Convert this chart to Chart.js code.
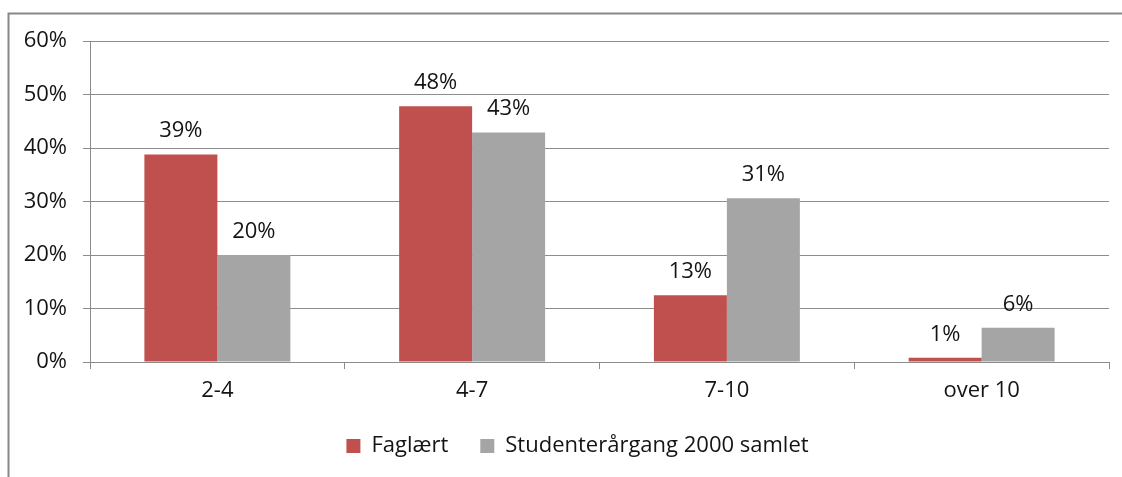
<!DOCTYPE html>
<html>
<head>
<meta charset="utf-8">
<script src="https://cdn.jsdelivr.net/npm/chart.js@4.4.1/dist/chart.umd.min.js"></script>
<style>
  html, body { margin: 0; padding: 0; background: #ffffff; }
  #wrap { position: absolute; left: 0; top: 0; width: 1122px; height: 477px; }
</style>
</head>
<body>
<div id="wrap"><canvas id="c" width="1122" height="477"></canvas></div>
<script>
const categories = ["2-4", "4-7", "7-10", "over 10"];
const seriesNames = ["Faglært", "Studenterårgang 2000 samlet"];
const faglaert = [38.8, 47.8, 12.5, 0.8];
const studenter = [20.0, 42.9, 30.6, 6.4];
const yTicks = [0, 10, 20, 30, 40, 50, 60];

const FONT = "'Open Sans', 'DejaVu Sans', sans-serif";
const FS = 22;
const GRID = "#8c8c8c";
const TEXT = "#141414";
const LEGEND_SHIFT = 23;

const framePlugin = {
  id: "frame",
  beforeDraw(chart) {
    const ctx = chart.ctx;
    ctx.save();
    ctx.strokeStyle = "#878787";
    ctx.lineWidth = 2;
    ctx.beginPath();
    ctx.moveTo(8.5, 477);
    ctx.lineTo(8.5, 13.5);
    ctx.lineTo(1122, 13.5);
    ctx.stroke();
    ctx.restore();
  }
};

const legendShiftPlugin = {
  id: "legendShift",
  afterLayout(chart) {
    if (chart.legend) {
      chart.legend.left += LEGEND_SHIFT;
      chart.legend.right += LEGEND_SHIFT;
    }
  }
};

const labelPlugin = {
  id: "barLabels",
  afterDatasetsDraw(chart) {
    const ctx = chart.ctx;
    ctx.save();
    ctx.font = FS + "px " + FONT;
    ctx.fillStyle = TEXT;
    ctx.textAlign = "center";
    ctx.textBaseline = "alphabetic";
    chart.data.datasets.forEach((ds, di) => {
      const meta = chart.getDatasetMeta(di);
      meta.data.forEach((bar, i) => {
        ctx.fillText(Math.round(ds.data[i]) + "%", bar.x, bar.y - 17);
      });
    });
    ctx.restore();
  }
};

new Chart(document.getElementById("c"), {
  type: "bar",
  data: {
    labels: categories,
    datasets: [
      { label: seriesNames[0], data: faglaert, backgroundColor: "#C0504D" },
      { label: seriesNames[1], data: studenter, backgroundColor: "#A5A5A5" }
    ]
  },
  options: {
    responsive: false,
    animation: false,
    devicePixelRatio: 1,
    layout: { padding: { left: 0, right: 13, top: 41, bottom: 10 } },
    datasets: { bar: { categoryPercentage: 0.573, barPercentage: 1.0 } },
    plugins: {
      legend: {
        position: "bottom",
        labels: {
          boxWidth: 14, boxHeight: 14, padding: 32,
          color: TEXT,
          font: { family: FONT, size: FS }
        }
      },
      tooltip: { enabled: false }
    },
    scales: {
      x: {
        afterFit(scale) { scale.height = 41; },
        grid: { drawOnChartArea: false, drawTicks: true, tickLength: 7, color: GRID, offset: true },
        border: { color: GRID, width: 1 },
        ticks: { color: TEXT, font: { family: FONT, size: FS }, padding: 9 }
      },
      y: {
        min: 0, max: 60,
        afterFit(scale) { scale.width = 90; },
        afterBuildTicks(scale) { scale.ticks = yTicks.map(v => ({ value: v })); },
        grid: { color: GRID, tickLength: 7, drawTicks: true },
        border: { color: GRID, width: 1 },
        ticks: {
          color: TEXT,
          font: { family: FONT, size: FS },
          padding: 16,
          callback: v => v + "%"
        }
      }
    }
  },
  plugins: [framePlugin, legendShiftPlugin, labelPlugin]
});
</script>
</body>
</html>
